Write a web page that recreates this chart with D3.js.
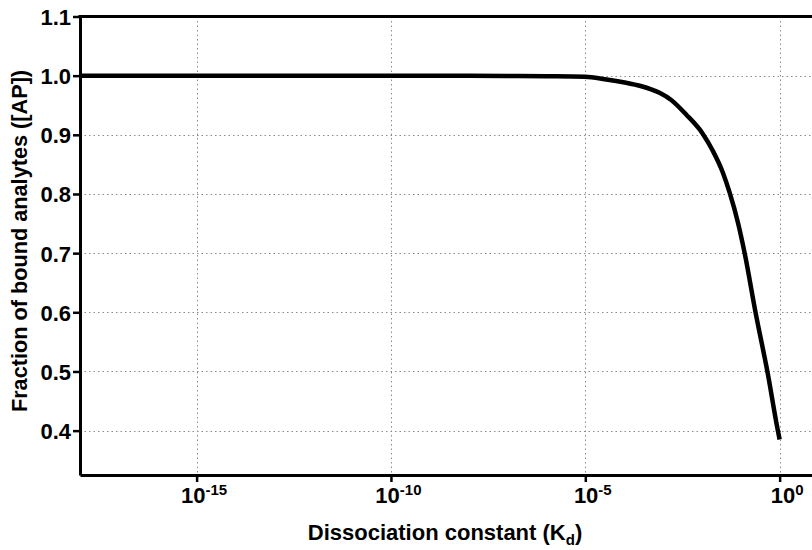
<!DOCTYPE html>
<html>
<head>
<meta charset="utf-8">
<script src="https://cdn.jsdelivr.net/npm/d3@7"></script>
<style>
  body { margin: 0; background: #fff; }
  svg { display: block; font-family: "Liberation Sans", Arial, sans-serif; }
</style>
</head>
<body>
<div id="chart"></div>
<script>
// values
var kdValues = [1e-18, 1e-14, 1e-10, 1e-8, 1e-7, 1e-6, 1e-5, 3.16e-5, 1.12e-4, 2.51e-4, 8.13e-4,
                1.62e-3, 3.98e-3, 1.05e-2, 1.91e-2, 3.47e-2, 5.13e-2, 8.51e-2, 0.126, 0.24, 0.5, 0.87, 1];
var fractionBound = [1.0, 1.0, 1.0, 1.0, 0.9995, 0.999, 0.998, 0.994, 0.988, 0.983, 0.971,
                     0.959, 0.934, 0.902, 0.873, 0.836, 0.803, 0.751, 0.700, 0.600, 0.495, 0.405, 0.385];
var xTickExps = [-15, -10, -5, 0];
var yTicks = [0.4, 0.5, 0.6, 0.7, 0.8, 0.9, 1.0, 1.1];

var width = 812, height = 550;
var margin = {left: 80, top: 16.5, bottom: 75};

var svg = d3.select("#chart").append("svg")
    .attr("width", width)
    .attr("height", height);

var x = d3.scaleLog().domain([1e-18, 10]).range([margin.left, 818.5]);
var y = d3.scaleLinear().domain([0.325, 1.1]).range([height - margin.bottom, margin.top]);

// grid
var grid = svg.append("g")
    .attr("stroke", "#8c8c8c")
    .attr("stroke-width", 1)
    .attr("stroke-dasharray", "1.5,3");

grid.selectAll("line.gy")
    .data(yTicks.filter(function (d) { return d < 1.1; }))
    .enter().append("line")
    .attr("class", "gy")
    .attr("x1", margin.left).attr("x2", width)
    .attr("y1", d => Math.round(y(d)) + 0.5)
    .attr("y2", d => Math.round(y(d)) + 0.5);

grid.selectAll("line.gx")
    .data(xTickExps)
    .enter().append("line")
    .attr("class", "gx")
    .attr("x1", d => Math.round(x(Math.pow(10, d))) + 0.5)
    .attr("x2", d => Math.round(x(Math.pow(10, d))) + 0.5)
    .attr("y1", y(1.1)).attr("y2", y(0.325));

// curve
var line = d3.line()
    .x(function (d, i) { return x(kdValues[i]); })
    .y(function (d) { return y(d); })
    .curve(d3.curveMonotoneX);

svg.append("path")
    .datum(fractionBound)
    .attr("fill", "none")
    .attr("stroke", "#000")
    .attr("stroke-width", 4.5)
    .attr("stroke-linejoin", "round")
    .attr("d", line);

// axes
var xAxis = svg.append("g")
    .attr("transform", "translate(0," + y(0.325) + ")")
    .call(d3.axisBottom(x)
        .tickValues(xTickExps.map(function (e) { return Math.pow(10, e); }))
        .tickSize(7).tickSizeOuter(0)
        .tickFormat(""));

var yAxis = svg.append("g")
    .attr("transform", "translate(" + margin.left + ",0)")
    .call(d3.axisLeft(y)
        .tickValues(yTicks)
        .tickSize(7).tickSizeOuter(0)
        .tickFormat(d3.format(".1f")));

[xAxis, yAxis].forEach(function (a) {
    a.select(".domain").attr("stroke", "#000").attr("stroke-width", 3);
    a.selectAll(".tick line").attr("stroke", "#000").attr("stroke-width", 2.5);
});

yAxis.selectAll(".tick text")
    .attr("x", -9)
    .attr("dy", "0.36em")
    .attr("fill", "#000")
    .style("font-size", "22px")
    .style("font-weight", "bold");

// power of ten labels
xAxis.selectAll(".tick").each(function (d) {
    var t = d3.select(this).append("text")
        .attr("x", 7)
        .attr("y", 28)
        .attr("text-anchor", "middle")
        .attr("fill", "#000")
        .style("font-size", "22px")
        .style("font-weight", "bold");
    t.append("tspan").text("10");
    t.append("tspan")
        .attr("dy", -8)
        .style("font-size", "15px")
        .text(Math.round(Math.log10(d)));
});

// top border
svg.append("line")
    .attr("x1", margin.left - 1.5).attr("x2", width)
    .attr("y1", y(1.1)).attr("y2", y(1.1))
    .attr("stroke", "#000").attr("stroke-width", 3);

// titles
var xt = svg.append("text")
    .attr("x", 445).attr("y", 540)
    .attr("text-anchor", "middle")
    .style("font-size", "22px")
    .style("font-weight", "bold")
    .text("Dissociation constant (K");
xt.append("tspan").attr("dy", 5).style("font-size", "15px").text("d");
xt.append("tspan").attr("dy", -5).text(")");

svg.append("text")
    .attr("transform", "translate(27,241) rotate(-90)")
    .attr("text-anchor", "middle")
    .style("font-size", "21.7px")
    .style("font-weight", "bold")
    .text("Fraction of bound analytes ([AP])");
</script>
</body>
</html>
